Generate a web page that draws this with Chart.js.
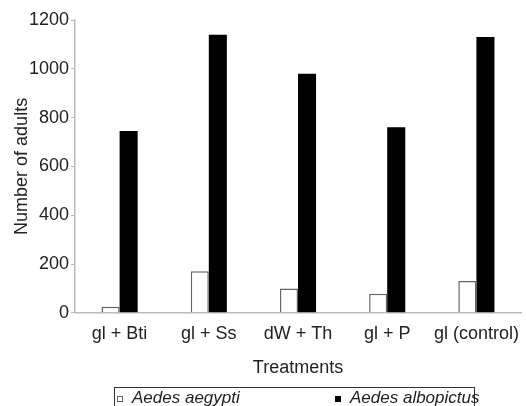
<!DOCTYPE html>
<html lang="en">
<head>
<meta charset="UTF-8">
<title>Number of adults by treatment</title>
<script src="https://cdn.jsdelivr.net/npm/chart.js"></script>
<style>
  html, body { margin: 0; padding: 0; background: #fff; }
  #wrap { width: 526px; height: 406px; }
</style>
</head>
<body>
<div id="wrap"><canvas id="chart"></canvas></div>
<script>
// data
const treatments = ['gl + Bti', 'gl + Ss', 'dW + Th', 'gl + P', 'gl (control)'];
const aegypti = [25, 170, 100, 78, 130];
const albopictus = [745, 1140, 980, 760, 1130];
const yTicks = [0, 200, 400, 600, 800, 1000, 1200];

const FONT = 'Liberation Sans, Arial, Helvetica, sans-serif';
const TEXT = '#222';

// legend drawn by hand: a framed row at the bottom like the original
const boxLegend = {
  id: 'boxLegend',
  afterDraw(chart) {
    const ctx = chart.ctx;
    const ds = chart.data.datasets;
    const xs = [117, 335];
    const y = 398;
    ctx.save();
    ctx.strokeStyle = '#333';
    ctx.lineWidth = 1;
    ctx.strokeRect(114.5, 387.5, 360, 30);
    ctx.font = 'italic 17px ' + FONT;
    ctx.textBaseline = 'middle';
    ctx.textAlign = 'left';
    ds.forEach((d, i) => {
      ctx.fillStyle = d.backgroundColor;
      ctx.fillRect(xs[i], y - 2, 6, 6);
      ctx.strokeStyle = d.borderColor;
      ctx.lineWidth = 1;
      ctx.strokeRect(xs[i] + 0.5, y - 1.5, 5, 5);
      ctx.fillStyle = TEXT;
      ctx.fillText(d.label, xs[i] + 15, y);
    });
    ctx.restore();
  }
};

new Chart(document.getElementById('chart'), {
  type: 'bar',
  data: {
    labels: treatments,
    datasets: [
      {
        label: 'Aedes aegypti',
        data: aegypti,
        backgroundColor: '#ffffff',
        borderColor: '#666666',
        borderWidth: 1.5
      },
      {
        label: 'Aedes albopictus',
        data: albopictus,
        backgroundColor: '#000000',
        borderColor: '#000000',
        borderWidth: 0
      }
    ]
  },
  options: {
    responsive: true,
    maintainAspectRatio: false,
    animation: false,
    categoryPercentage: 0.405,
    barPercentage: 1,
    layout: { padding: { top: 20, right: 5, bottom: 27, left: 0 } },
    plugins: {
      legend: { display: false },
      tooltip: { enabled: false }
    },
    scales: {
      x: {
        grid: { display: false },
        border: { color: '#bbbbbb', width: 1.5 },
        ticks: { color: TEXT, font: { family: FONT, size: 18 }, padding: 2, maxRotation: 0 },
        title: {
          display: true,
          text: 'Treatments',
          color: TEXT,
          font: { family: FONT, size: 18 },
          padding: { top: 11, bottom: 0 }
        }
      },
      y: {
        min: 0,
        max: 1200,
        afterBuildTicks(scale) {
          scale.ticks = yTicks.map(v => ({ value: v }));
        },
        afterFit(scale) {
          scale.width = 75;
        },
        grid: { drawOnChartArea: false, tickLength: 4, color: '#bbbbbb' },
        border: { color: '#bbbbbb', width: 1.5 },
        ticks: {
          color: TEXT,
          font: { family: FONT, size: 18 },
          padding: 2,
          callback: v => String(v)
        },
        title: {
          display: true,
          text: 'Number of adults',
          color: TEXT,
          font: { family: FONT, size: 18 },
          padding: { top: 11, bottom: 0 }
        }
      }
    }
  },
  plugins: [boxLegend]
});
</script>
</body>
</html>
